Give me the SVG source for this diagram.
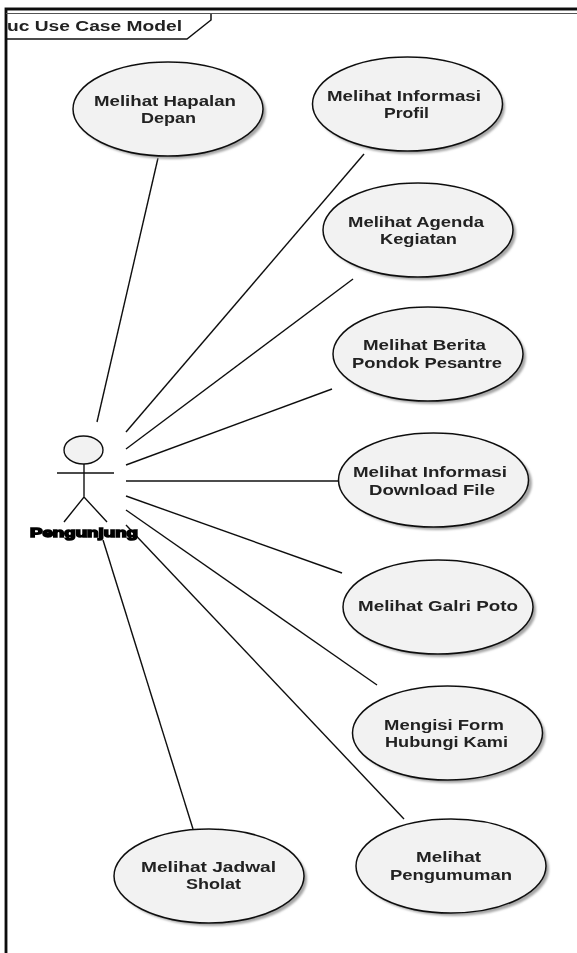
<svg xmlns="http://www.w3.org/2000/svg" width="577" height="953" viewBox="0 0 577 953">
<defs>
<filter id="soft" x="0" y="0" width="100%" height="100%" filterUnits="userSpaceOnUse"><feGaussianBlur stdDeviation="0.4"/></filter>
<filter id="sh" x="-10%" y="-10%" width="125%" height="125%"><feGaussianBlur stdDeviation="1.2"/></filter>
<ellipse id="uc" rx="95" ry="47"/>
</defs>
<style>
text{font-family:"Liberation Sans",Arial,sans-serif;font-weight:700;font-size:14px;fill:#222;stroke:none}
.e{fill:#f2f2f2;stroke:#111;stroke-width:1.5}
.s{fill:#a6a6a6;stroke:none}
.c line{stroke:#111;stroke-width:1.4}
</style>
<rect width="577" height="953" fill="#fff"/>
<g filter="url(#soft)">
<g id="frame" fill="none" stroke="#111">
<path d="M6 953V9H577" stroke-width="2.8"/>
<path d="M6 13.500H577" stroke-width="1.2" stroke="#555"/>
<path d="M6 39H187L211 20V14" stroke-width="1.5"/>
<text x="7" y="31" textLength="175" lengthAdjust="spacingAndGlyphs">uc Use Case Model</text>
</g>
<g id="connectors" class="c">
<line x1="158" y1="158" x2="97" y2="422"/>
<line x1="364" y1="154" x2="126" y2="432"/>
<line x1="353" y1="279" x2="126" y2="449"/>
<line x1="332" y1="389" x2="126" y2="465"/>
<line x1="339" y1="481" x2="126" y2="481"/>
<line x1="342" y1="573" x2="126" y2="496"/>
<line x1="377" y1="685" x2="126" y2="510"/>
<line x1="404" y1="819" x2="126" y2="525"/>
<line x1="193" y1="829" x2="103" y2="540"/>
</g>
<g id="hapalan"><use href="#uc" x="171" y="112" class="s" filter="url(#sh)"/><use href="#uc" x="168" y="109" class="e"/><text x="94" y="106" textLength="142" lengthAdjust="spacingAndGlyphs">Melihat Hapalan</text><text x="141" y="123" textLength="55" lengthAdjust="spacingAndGlyphs">Depan</text></g>
<g id="informasi"><use href="#uc" x="410" y="107" class="s" filter="url(#sh)"/><use href="#uc" x="407.500" y="104" class="e"/><text x="327" y="101" textLength="154" lengthAdjust="spacingAndGlyphs">Melihat Informasi</text><text x="384" y="118" textLength="45" lengthAdjust="spacingAndGlyphs">Profil</text></g>
<g id="agenda"><use href="#uc" x="421" y="233" class="s" filter="url(#sh)"/><use href="#uc" x="418" y="230" class="e"/><text x="348" y="227" textLength="136" lengthAdjust="spacingAndGlyphs">Melihat Agenda</text><text x="380" y="244" textLength="77" lengthAdjust="spacingAndGlyphs">Kegiatan</text></g>
<g id="berita"><use href="#uc" x="431" y="357" class="s" filter="url(#sh)"/><use href="#uc" x="428" y="354" class="e"/><text x="363" y="350" textLength="123" lengthAdjust="spacingAndGlyphs">Melihat Berita</text><text x="352" y="368" textLength="150" lengthAdjust="spacingAndGlyphs">Pondok Pesantre</text></g>
<g id="download"><use href="#uc" x="437" y="483" class="s" filter="url(#sh)"/><use href="#uc" x="433.500" y="480" class="e"/><text x="353" y="477" textLength="154" lengthAdjust="spacingAndGlyphs">Melihat Informasi</text><text x="369" y="495" textLength="126" lengthAdjust="spacingAndGlyphs">Download File</text></g>
<g id="galri"><use href="#uc" x="441" y="610" class="s" filter="url(#sh)"/><use href="#uc" x="438" y="607" class="e"/><text x="358" y="611" textLength="160" lengthAdjust="spacingAndGlyphs">Melihat Galri Poto</text></g>
<g id="form"><use href="#uc" x="450.500" y="736" class="s" filter="url(#sh)"/><use href="#uc" x="447.500" y="733" class="e"/><text x="384" y="730" textLength="120" lengthAdjust="spacingAndGlyphs">Mengisi Form</text><text x="385" y="747" textLength="123" lengthAdjust="spacingAndGlyphs">Hubungi Kami</text></g>
<g id="pengumuman"><use href="#uc" x="454" y="869" class="s" filter="url(#sh)"/><use href="#uc" x="451" y="866" class="e"/><text x="416" y="862" textLength="65" lengthAdjust="spacingAndGlyphs">Melihat</text><text x="390" y="880" textLength="122" lengthAdjust="spacingAndGlyphs">Pengumuman</text></g>
<g id="jadwal"><use href="#uc" x="212" y="879" class="s" filter="url(#sh)"/><use href="#uc" x="209" y="876" class="e"/><text x="141" y="872" textLength="135" lengthAdjust="spacingAndGlyphs">Melihat Jadwal</text><text x="186" y="889" textLength="55" lengthAdjust="spacingAndGlyphs">Sholat</text></g>
<g id="actor" fill="none" stroke="#111" stroke-width="1.4">
<ellipse cx="83.500" cy="450" rx="19.500" ry="14" fill="#f2f2f2"/>
<path d="M84 464V497M57 473H114M64 522L84 497L107 522"/>
<text x="30" y="537" textLength="108" lengthAdjust="spacingAndGlyphs" style="font-size:13px;stroke:#000;stroke-width:1.5;fill:#000">Pengunjung</text>
</g>
</g>
</svg>
